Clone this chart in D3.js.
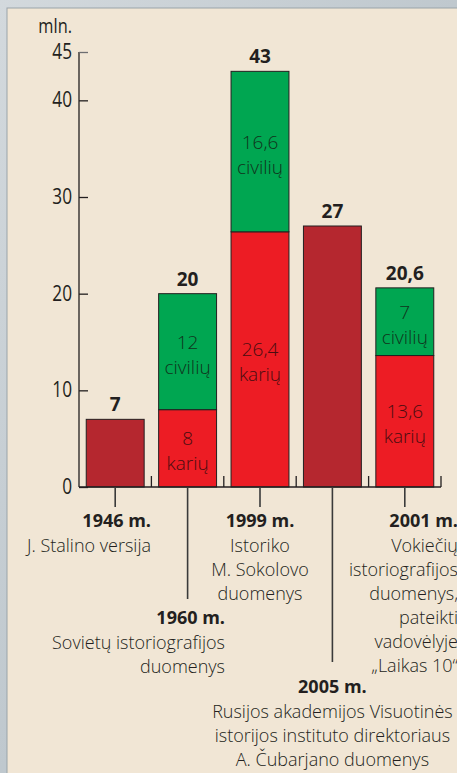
<!DOCTYPE html>
<html><head><meta charset="utf-8">
<script src="https://cdn.jsdelivr.net/npm/d3@7"></script>
<style>
html,body{margin:0;padding:0;overflow:hidden;background:#c9d1d7;}
svg{display:block;}
</style></head>
<body>
<svg id="c" width="457" height="773"></svg>
<script>
const categories = ["1946", "1960", "1999", "2005", "2001"];
const soldiers   = [null, 8, 26.4, null, 13.6];
const civilians  = [null, 12, 16.6, null, 7];
const totals     = [7, 20, 43, 27, 20.6];
const totalLabels = ["7", "20", "43", "27", "20,6"];
const soldierLabels = [null, "8", "26,4", null, "13,6"];
const civilianLabels = [null, "12", "16,6", null, "7"];
const yTicks = [0, 10, 20, 30, 40, 45];
const yearLabels = ["1946 m.", "1960 m.", "1999 m.", "2005 m.", "2001 m."];
const descLines = [
  ["J. Stalino versija"],
  ["Sovietų istoriografijos", "duomenys"],
  ["Istoriko", "M. Sokolovo", "duomenys"],
  ["Rusijos akademijos Visuotinės", "istorijos instituto direktoriaus", "A. Čubarjano duomenys"],
  ["Vokiečių", "istoriografijos", "duomenys,", "pateikti", "vadovėlyje", "„Laikas 10“"]
];

const svg = d3.select("#c");
const W = 457, H = 773;
const bodyFont = "'Open Sans', 'Noto Sans', sans-serif";
const narrowFont = "'Liberation Sans Narrow', 'Open Sans', sans-serif";

// background
const defs = svg.append("defs");
const g0 = defs.append("linearGradient").attr("id","bg").attr("x1",0).attr("y1",0).attr("x2",1).attr("y2",1);
g0.append("stop").attr("offset","0").attr("stop-color","#d3d9dd");
g0.append("stop").attr("offset","0.5").attr("stop-color","#bfc8ce");
g0.append("stop").attr("offset","1").attr("stop-color","#cdd4d9");
svg.append("rect").attr("width",W).attr("height",H).attr("fill","url(#bg)");
svg.append("rect").attr("x",7).attr("y",8).attr("width",W).attr("height",H)
  .attr("fill","#f1e6d5").attr("stroke","#9aa3aa").attr("stroke-width",1);

const y = d3.scaleLinear().domain([0,45]).range([487,52]);
const x = d3.scaleBand().domain(categories).range([79,441]).paddingInner(0.2).paddingOuter(0.1);

const colDark = "#b5272f", colRed = "#ed1c24", colGreen = "#00a651";

// bars
categories.forEach((c,i)=>{
  const bx = x(c), bw = x.bandwidth();
  if (soldiers[i] == null) {
    svg.append("rect").attr("x",bx).attr("y",y(totals[i])).attr("width",bw)
      .attr("height",y(0)-y(totals[i])).attr("fill",colDark).attr("stroke","#231f20").attr("stroke-width",1);
  } else {
    const s = soldiers[i], cv = civilians[i];
    svg.append("rect").attr("x",bx).attr("y",y(s)).attr("width",bw)
      .attr("height",y(0)-y(s)).attr("fill",colRed).attr("stroke","#231f20").attr("stroke-width",1);
    svg.append("rect").attr("x",bx).attr("y",y(s+cv)).attr("width",bw)
      .attr("height",y(s)-y(s+cv)).attr("fill",colGreen).attr("stroke","#231f20").attr("stroke-width",1);
    const cx = bx + bw/2;
    const midR = (y(0)+y(s))/2, midG = (y(s)+y(s+cv))/2;
    const t1 = svg.append("text").attr("x",cx).attr("text-anchor","middle")
      .attr("font-family",bodyFont).attr("font-weight",300).attr("font-size",19).attr("fill","#4a0d10");
    t1.append("tspan").attr("x",cx).attr("y",midR-3).text(soldierLabels[i]);
    t1.append("tspan").attr("x",cx).attr("y",midR+22).text("karių");
    const t2 = svg.append("text").attr("x",cx).attr("text-anchor","middle")
      .attr("font-family",bodyFont).attr("font-weight",300).attr("font-size",19).attr("fill","#10331c");
    t2.append("tspan").attr("x",cx).attr("y",midG-3).text(civilianLabels[i]);
    t2.append("tspan").attr("x",cx).attr("y",midG+22).text("civilių");
  }
  svg.append("text").attr("x",bx+bw/2).attr("y",y(totals[i])-8).attr("text-anchor","middle")
    .attr("font-family",bodyFont).attr("font-weight",700).attr("font-size",19).attr("fill","#231f20")
    .text(totalLabels[i]);
});

// y axis
const yAxis = d3.axisRight(y).tickValues(yTicks).tickSize(9).tickFormat("");
const ya = svg.append("g").attr("transform","translate(79,0)").call(yAxis);
ya.select(".domain").attr("stroke","#231f20").attr("stroke-width",1.3).attr("d","M0,52V487");
ya.selectAll(".tick line").attr("stroke",(d)=>d===45?"#6d6e71":"#231f20").attr("stroke-width",1.3);
yTicks.forEach(t=>{
  svg.append("text").attr("transform",`translate(72,${y(t)+7}) scale(0.82,1)`).attr("text-anchor","end")
    .attr("font-family",narrowFont).attr("font-weight",400).attr("font-size",21).attr("fill","#231f20").text(t);
});
svg.append("text").attr("transform","translate(72,33) scale(0.82,1)").attr("text-anchor","end")
  .attr("font-family",narrowFont).attr("font-weight",400).attr("font-size",20).attr("fill","#231f20").text("mln.");

// x baseline and separators
svg.append("line").attr("x1",79).attr("x2",441).attr("y1",y(0)).attr("y2",y(0))
  .attr("stroke","#231f20").attr("stroke-width",1.3);
const step = x.step();
for (let i=1;i<=categories.length;i++){
  const bx = 79 + i*step;
  svg.append("line").attr("x1",bx).attr("x2",bx).attr("y1",y(0)-11).attr("y2",y(0))
    .attr("stroke","#231f20").attr("stroke-width",1.3);
}

// leader lines and labels
const leaderEnd = [507, 599, 507, 662, 507];
const yearY = [527, 624, 527, 693, 527];
const anchorX = [151, 225, null, null, 458];
const anchors = ["end","end","middle","middle","end"];
categories.forEach((c,i)=>{
  const cx = x(c)+x.bandwidth()/2;
  svg.append("line").attr("x1",cx).attr("x2",cx).attr("y1",y(0)).attr("y2",leaderEnd[i])
    .attr("stroke","#3a3a3a").attr("stroke-width",1.6);
  const tx = anchorX[i] == null ? cx : anchorX[i];
  svg.append("text").attr("x",tx).attr("y",yearY[i]).attr("text-anchor",anchors[i])
    .attr("font-family",bodyFont).attr("font-weight",700).attr("font-size",18).attr("fill","#231f20")
    .text(yearLabels[i]);
  descLines[i].forEach((ln,j)=>{
    svg.append("text").attr("x",tx).attr("y",yearY[i]+25+j*24).attr("text-anchor",anchors[i])
      .attr("font-family",bodyFont).attr("font-weight",300).attr("font-size",18).attr("fill","#231f20")
      .text(ln);
  });
});
</script>
</body></html>
